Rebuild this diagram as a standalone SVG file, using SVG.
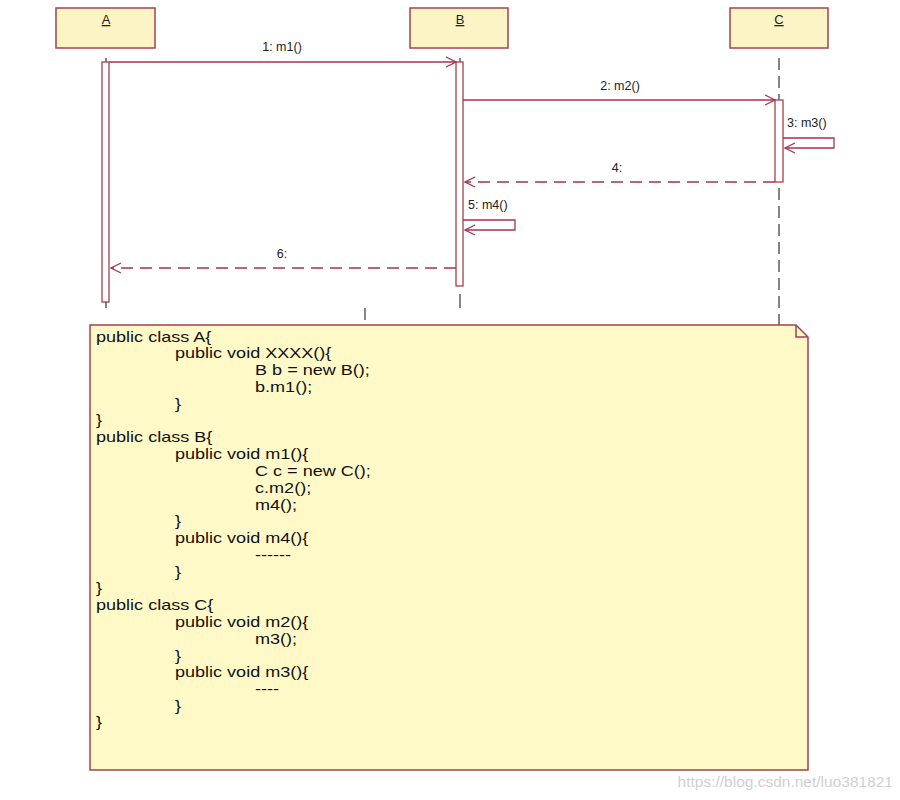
<svg xmlns="http://www.w3.org/2000/svg" width="900" height="800" viewBox="0 0 900 800">
<defs>
<style>
.box{fill:#fcf4c4;stroke:#a8404e;stroke-width:1.5}
.act{fill:#ffffff;stroke:#a8404e;stroke-width:1.3}
.msg{fill:none;stroke:#a8324e;stroke-width:1.3}
.ret{fill:none;stroke:#a8324e;stroke-width:1.3;stroke-dasharray:12,7}
.life{fill:none;stroke:#333;stroke-width:1.2;stroke-dasharray:12,6}
.lbl{font-family:"Liberation Sans",Arial,sans-serif;font-size:12.5px;fill:#222}
.code{font-family:"Liberation Sans",Arial,sans-serif;font-size:14px;fill:#111}
.name{font-family:"Liberation Sans",Arial,sans-serif;font-size:13px;fill:#222;text-decoration:underline}
</style>
<marker id="open" viewBox="0 0 12 12" refX="11" refY="6" markerWidth="12" markerHeight="12" markerUnits="userSpaceOnUse" orient="auto">
<path d="M1,1 L11,6 L1,11" fill="none" stroke="#a8324e" stroke-width="1.3"/>
</marker>
</defs>
<rect width="900" height="800" fill="#ffffff"/>

<g id="A">
<rect class="box" x="56" y="8" width="99" height="40"/>
<text class="name" x="106" y="24" text-anchor="middle">A</text>
<line x1="106" y1="58" x2="106" y2="62" stroke="#333" stroke-width="1.2"/>
<rect class="act" x="102" y="62" width="7" height="240"/>
<line x1="106" y1="302" x2="106" y2="308" stroke="#333" stroke-width="1.2"/>
</g>
<g id="B">
<rect class="box" x="410" y="8" width="98" height="40"/>
<text class="name" x="460" y="24" text-anchor="middle">B</text>
<line x1="460" y1="58" x2="460" y2="62" stroke="#333" stroke-width="1.2"/>
<rect class="act" x="456" y="62" width="7" height="224"/>
<line x1="460" y1="294" x2="460" y2="308" stroke="#333" stroke-width="1.2"/>
</g>
<g id="C">
<rect class="box" x="730" y="8" width="98" height="40"/>
<text class="name" x="779" y="24" text-anchor="middle">C</text>
<line class="life" x1="779" y1="58" x2="779" y2="100"/>
<rect class="act" x="775" y="100" width="8" height="82"/>
<line class="life" x1="779" y1="188" x2="779" y2="325"/>
</g>
<line class="life" x1="365" y1="308" x2="365" y2="325"/>

<g id="connectors">
<line class="msg" x1="109" y1="62" x2="456" y2="62" marker-end="url(#open)"/>
<text class="lbl" x="282" y="51" text-anchor="middle">1: m1()</text>
<line class="msg" x1="463" y1="100" x2="775" y2="100" marker-end="url(#open)"/>
<text class="lbl" x="620" y="90" text-anchor="middle">2: m2()</text>
<polyline class="msg" points="783,138 834,138 834,148 785,148" marker-end="url(#open)"/>
<text class="lbl" x="787" y="127">3: m3()</text>
<line class="ret" x1="775" y1="182" x2="465" y2="182" marker-end="url(#open)"/>
<text class="lbl" x="617" y="172" text-anchor="middle">4:</text>
<polyline class="msg" points="463,220 515,220 515,230 465,230" marker-end="url(#open)"/>
<text class="lbl" x="468" y="209">5: m4()</text>
<line class="ret" x1="456" y1="268" x2="111" y2="268" marker-end="url(#open)"/>
<text class="lbl" x="282" y="258" text-anchor="middle">6:</text>
</g>

<g id="note">
<path d="M90,325 L796,325 L808,337 L808,770 L90,770 Z" fill="#fff9c8" stroke="#a8404e" stroke-width="1.5"/>
<path d="M796,325 L796,337 L808,337" fill="none" stroke="#a8404e" stroke-width="1.5"/>
<g transform="translate(96,0) scale(1.29,1)">
<text class="code" x="0" y="342">public class A{</text>
<text class="code" x="61.2" y="358">public void XXXX(){</text>
<text class="code" x="123.3" y="375">B b = new B();</text>
<text class="code" x="123.3" y="392">b.m1();</text>
<text class="code" x="61.2" y="409">}</text>
<text class="code" x="0" y="425">}</text>
<text class="code" x="0" y="442">public class B{</text>
<text class="code" x="61.2" y="459">public void m1(){</text>
<text class="code" x="123.3" y="476">C c = new C();</text>
<text class="code" x="123.3" y="493">c.m2();</text>
<text class="code" x="123.3" y="510">m4();</text>
<text class="code" x="61.2" y="526">}</text>
<text class="code" x="61.2" y="543">public void m4(){</text>
<text class="code" x="123.3" y="560" font-size="9">------</text>
<text class="code" x="61.2" y="577">}</text>
<text class="code" x="0" y="593">}</text>
<text class="code" x="0" y="610">public class C{</text>
<text class="code" x="61.2" y="627">public void m2(){</text>
<text class="code" x="123.3" y="644">m3();</text>
<text class="code" x="61.2" y="661">}</text>
<text class="code" x="61.2" y="677">public void m3(){</text>
<text class="code" x="123.3" y="694" font-size="9">----</text>
<text class="code" x="61.2" y="711">}</text>
<text class="code" x="0" y="727">}</text>
</g>
</g>
<text x="893" y="787" text-anchor="end" font-family="'Liberation Sans',Arial,sans-serif" font-size="15.5" fill="#d0d0d0">https://blog.csdn.net/luo381821</text>
</svg>
